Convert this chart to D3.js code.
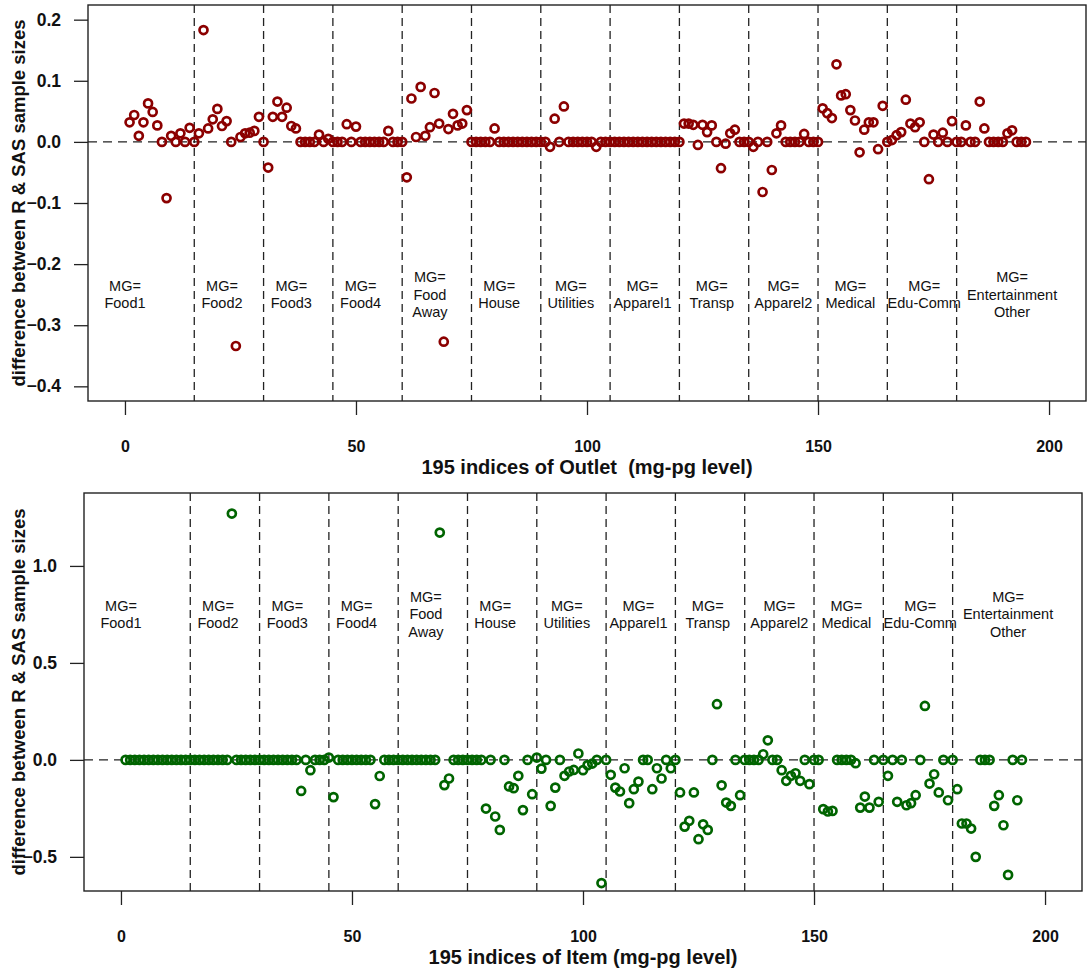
<!DOCTYPE html>
<html>
<head>
<meta charset="utf-8">
<script src="https://cdn.jsdelivr.net/npm/d3@7"></script>
<style>
  body { margin: 0; background: #fff; }
  svg { display: block; font-family: "Liberation Sans", Arial, sans-serif; }
  .xtitle { white-space: pre; }
</style>
</head>
<body>
<div id="chart"></div>
<script>
// MG group labels (one entry per block of 15 indices)
var groupLabels = [
  ["MG=", "Food1"], ["MG=", "Food2"], ["MG=", "Food3"], ["MG=", "Food4"],
  ["MG=", "Food", "Away"], ["MG=", "House"], ["MG=", "Utilities"], ["MG=", "Apparel1"],
  ["MG=", "Transp"], ["MG=", "Apparel2"], ["MG=", "Medical"], ["MG=", "Edu-Comm"],
  ["MG=", "Entertainment", "Other"]
];
var labelIndex = [0, 21, 36, 51, 66, 81, 96.5, 112, 127, 142.5, 157, 173, 192];
var groupBreaks = [15, 30, 45, 60, 75, 90, 105, 120, 135, 150, 165, 180];
var xTicks = [0, 50, 100, 150, 200];
var outletTicks = [-0.4, -0.3, -0.2, -0.1, 0, 0.1, 0.2];
var itemTicks = [-0.5, 0, 0.5, 1.0];

// Outlet level differences, index 1..195 (15 per row = one MG group)
var outletDiff = [
  0.032, 0.044, 0.010, 0.032, 0.063, 0.049, 0.027, 0, -0.092, 0.010, 0, 0.014, 0, 0.023, 0,
  0.014, 0.183, 0.022, 0.037, 0.054, 0.026, 0.034, 0, -0.334, 0.008, 0.014, 0.015, 0.018, 0.041, 0,
  -0.042, 0.041, 0.066, 0.041, 0.056, 0.026, 0.022, 0, 0, 0, 0, 0.012, 0, 0.005, 0,
  0, 0, 0.029, 0, 0.025, 0, 0, 0, 0, 0, 0, 0.018, 0, 0, 0,
  -0.058, 0.071, 0.008, 0.090, 0.010, 0.024, 0.080, 0.030, -0.327, 0.021, 0.046, 0.027, 0.030, 0.052, 0,
  0, 0, 0, 0, 0.022, 0, 0, 0, 0, 0, 0, 0, 0, 0, 0,
  0, -0.008, 0.038, 0, 0.058, 0, 0, 0, 0, 0, 0, -0.008, 0, 0, 0,
  0, 0, 0, 0, 0, 0, 0, 0, 0, 0, 0, 0, 0, 0, 0,
  0.030, 0.030, 0.028, -0.005, 0.028, 0.016, 0.027, 0, -0.043, -0.003, 0.014, 0.020, 0, 0, 0,
  -0.008, 0, -0.082, 0, -0.046, 0.014, 0.027, 0, 0, 0, 0, 0.013, 0, 0, 0,
  0.055, 0.047, 0.039, 0.127, 0.076, 0.078, 0.052, 0.035, -0.017, 0.020, 0.032, 0.032, -0.012, 0.059, 0,
  0.003, 0.011, 0.016, 0.069, 0.030, 0.024, 0.032, 0, -0.061, 0.012, 0, 0.015, 0, 0.034, 0,
  0, 0.027, 0, 0, 0.066, 0.022, 0, 0, 0, 0, 0.014, 0.019, 0, 0, 0
];

// Item level differences, index 1..195
var itemDiff = [
  0, 0, 0, 0, 0, 0, 0, 0, 0, 0, 0, 0, 0, 0, 0,
  0, 0, 0, 0, 0, 0, 0, 0, 1.27, 0, 0, 0, 0, 0, 0,
  0, 0, 0, 0, 0, 0, 0, 0, -0.160, 0, -0.053, 0, 0, 0, 0.012,
  -0.192, 0, 0, 0, 0, 0, 0, 0, 0, -0.228, -0.083, 0, 0, 0, 0,
  0, 0, 0, 0, 0, 0, 0, 0, 1.172, -0.130, -0.096, 0, 0, 0, 0,
  0, 0, 0, -0.251, 0, -0.292, -0.361, 0, -0.137, -0.146, -0.082, -0.259, 0, -0.177, 0.012,
  -0.045, 0, -0.237, -0.143, 0, -0.082, -0.060, -0.052, 0.033, -0.053, -0.027, -0.019, 0, -0.635, 0,
  -0.077, -0.143, -0.163, -0.043, -0.223, -0.151, -0.112, 0, 0, -0.151, -0.043, -0.096, 0, -0.043, 0,
  -0.168, -0.344, -0.314, -0.168, -0.409, -0.332, -0.361, 0, 0.287, -0.131, -0.220, -0.237, 0, -0.182, 0,
  0, 0, 0, 0.029, 0.101, 0, 0, -0.053, -0.108, -0.082, -0.069, -0.108, 0, -0.125, 0,
  0, -0.254, -0.266, -0.263, 0, 0, 0, 0, -0.017, -0.246, -0.189, -0.246, 0, -0.216, 0,
  -0.082, 0, -0.216, 0, -0.234, -0.223, -0.182, 0, 0.278, -0.122, -0.074, -0.168, 0, -0.208, 0,
  -0.151, -0.328, -0.328, -0.354, -0.500, 0, 0, 0, -0.237, -0.182, -0.337, -0.593, 0, -0.208, 0
];

var width = 1090, height = 972;

var svg = d3.select("#chart").append("svg")
    .attr("width", width)
    .attr("height", height);

// one R-style scatter panel
function drawPanel(p) {
  var x = d3.scaleLinear().domain([-8, 208]).range([p.left, p.right]);
  var y = d3.scaleLinear().domain(p.yDomain).range([p.bottom, p.top]);
  var g = svg.append("g");

  // y axis
  var ya = g.append("g")
      .attr("transform", "translate(" + p.left + ",0)")
      .call(d3.axisLeft(y).tickValues(p.yTicks).tickFormat(d3.format(".1f")).tickSize(14).tickPadding(13));
  ya.select(".domain").remove();
  ya.selectAll("line").attr("stroke", "#222").attr("stroke-width", 1.3);
  ya.selectAll("text").attr("font-size", 17.5).attr("font-weight", "bold").attr("fill", "#111");

  // x axis
  var xa = g.append("g")
      .attr("transform", "translate(0," + p.bottom + ")")
      .call(d3.axisBottom(x).tickValues(xTicks).tickFormat(d3.format("d")).tickSize(14).tickPadding(26));
  xa.select(".domain").remove();
  xa.selectAll("line").attr("stroke", "#222").attr("stroke-width", 1.3);
  xa.selectAll("text").attr("font-size", 16).attr("font-weight", "bold").attr("fill", "#111");

  // group separators and zero line
  g.selectAll(".vsep").data(groupBreaks).enter().append("line")
      .attr("x1", function(d) { return x(d); })
      .attr("x2", function(d) { return x(d); })
      .attr("y1", p.top).attr("y2", p.bottom)
      .attr("stroke", "#222").attr("stroke-width", 1.3)
      .attr("stroke-dasharray", "8,5");

  g.append("line")
      .attr("x1", p.left).attr("x2", p.right)
      .attr("y1", y(0)).attr("y2", y(0))
      .attr("stroke", "#222").attr("stroke-width", 1.3)
      .attr("stroke-dasharray", "9,6");

  // group labels
  var lab = g.selectAll(".mg").data(groupLabels).enter().append("text")
      .attr("text-anchor", "middle")
      .attr("font-size", 14.5)
      .attr("fill", "#111")
      .attr("x", function(d, i) { return x(labelIndex[i]); })
      .attr("y", function(d) { return y(p.labelY) - (d.length - 1) * 17.5 / 2 + 5; });
  lab.each(function(d) {
    var t = d3.select(this);
    var cx = t.attr("x");
    d.forEach(function(s, k) {
      t.append("tspan").attr("x", cx).attr("dy", k === 0 ? 0 : 17.5).text(s);
    });
  });

  // points
  g.selectAll(".pt").data(p.values).enter().append("circle")
      .attr("cx", function(d, i) { return x(i + 1); })
      .attr("cy", function(d) { return y(d); })
      .attr("r", 4)
      .attr("fill", "none")
      .attr("stroke", p.color)
      .attr("stroke-width", 2.7);

  // frame
  g.append("rect")
      .attr("x", p.left).attr("y", p.top)
      .attr("width", p.right - p.left).attr("height", p.bottom - p.top)
      .attr("fill", "none").attr("stroke", "#222").attr("stroke-width", 1.4);

  // titles
  g.append("text")
      .attr("class", "xtitle")
      .attr("x", (p.left + p.right) / 2)
      .attr("y", p.bottom + 73)
      .attr("text-anchor", "middle")
      .attr("font-size", 20).attr("font-weight", "bold").attr("fill", "#111")
      .text(p.xTitle);

  g.append("text")
      .attr("transform", "translate(25," + ((p.top + p.bottom) / 2) + ") rotate(-90)")
      .attr("text-anchor", "middle")
      .attr("font-size", 18.5).attr("font-weight", "bold").attr("fill", "#111")
      .text("difference between R & SAS sample sizes");
}

drawPanel({
  left: 88, right: 1086, top: 5, bottom: 401,
  yDomain: [-0.424, 0.224], yTicks: outletTicks, labelY: -0.25,
  values: outletDiff, color: "#8b0000",
  xTitle: "195 indices of Outlet  (mg-pg level)"
});

drawPanel({
  left: 84, right: 1082, top: 493, bottom: 891,
  yDomain: [-0.676, 1.376], yTicks: itemTicks, labelY: 0.75,
  values: itemDiff, color: "#006400",
  xTitle: "195 indices of Item (mg-pg level)"
});
</script>
</body>
</html>
